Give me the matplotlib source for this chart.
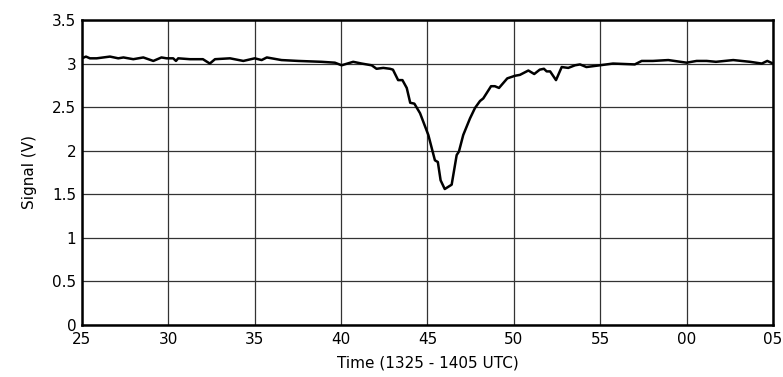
import matplotlib.pyplot as plt

# minutes after 13:00 UTC and measured signal
minutes = [25.0, 25.23, 25.46, 25.85, 26.62, 27.1, 27.4, 27.97, 28.55, 29.13,
           29.6, 29.9, 30.28, 30.44, 30.57, 31.25, 32.0, 32.4, 32.7, 33.57,
           34.34, 35.0, 35.4, 35.7, 36.55, 37.52, 38.87, 39.64, 40.03, 40.7,
           41.19, 41.77, 42.05, 42.44, 42.83, 43.0, 43.3, 43.55, 43.8, 44.0,
           44.24, 44.57, 45.05, 45.43, 45.6, 45.76, 46.0, 46.4, 46.69, 46.82,
           47.07, 47.46, 47.75, 48.04, 48.23, 48.68, 48.9, 49.14, 49.62, 50.07,
           50.35, 50.84, 51.18, 51.5, 51.74, 51.9, 52.1, 52.44, 52.77, 53.15,
           53.54, 53.83, 54.2, 54.98, 55.74, 57.0, 57.4, 58.05, 58.94, 60.0,
           60.58, 61.16, 61.7, 62.7, 63.67, 64.35, 64.67, 65.0]
signal = [3.06, 3.08, 3.06, 3.06, 3.08, 3.06, 3.07, 3.05, 3.07, 3.03,
          3.07, 3.06, 3.06, 3.03, 3.06, 3.05, 3.05, 3.00, 3.05, 3.06,
          3.03, 3.06, 3.04, 3.07, 3.04, 3.03, 3.02, 3.01, 2.98, 3.02,
          3.00, 2.98, 2.94, 2.95, 2.94, 2.93, 2.81, 2.81, 2.72, 2.55,
          2.54, 2.43, 2.18, 1.89, 1.87, 1.66, 1.56, 1.61, 1.95, 1.99,
          2.18, 2.37, 2.49, 2.57, 2.60, 2.74, 2.74, 2.72, 2.83, 2.86,
          2.87, 2.92, 2.88, 2.93, 2.94, 2.91, 2.91, 2.81, 2.96, 2.95,
          2.98, 2.99, 2.96, 2.98, 3.00, 2.99, 3.03, 3.03, 3.04, 3.01,
          3.03, 3.03, 3.02, 3.04, 3.02, 3.00, 3.03, 3.00]

xticks = [25, 30, 35, 40, 45, 50, 55, 60, 65]
xtick_labels = ['25', '30', '35', '40', '45', '50', '55', '00', '05']
yticks = [0, 0.5, 1, 1.5, 2, 2.5, 3, 3.5]
ytick_labels = ['0', '0.5', '1', '1.5', '2', '2.5', '3', '3.5']

fig = plt.figure(figsize=(7.83, 3.77), dpi=100)
ax = fig.add_axes([0.1047, 0.138, 0.8825, 0.809])

ax.plot(minutes, signal, color='black', linewidth=1.8, zorder=3)

ax.set_xlim(25, 65)
ax.set_ylim(0, 3.5)
ax.set_xticks(xticks)
ax.set_xticklabels(xtick_labels)
ax.set_yticks(yticks)
ax.set_yticklabels(ytick_labels)
ax.tick_params(length=0, labelsize=11)
ax.tick_params(axis='x', pad=5)
ax.tick_params(axis='y', pad=4)
ax.grid(True, color='#333333', linewidth=0.9)
for s in ax.spines.values():
    s.set_linewidth(1.8)

ax.set_xlabel('Time (1325 - 1405 UTC)', fontsize=11, labelpad=6)
ax.set_ylabel('Signal (V)', fontsize=11, labelpad=11)

fig.savefig('out.png', dpi=100)
